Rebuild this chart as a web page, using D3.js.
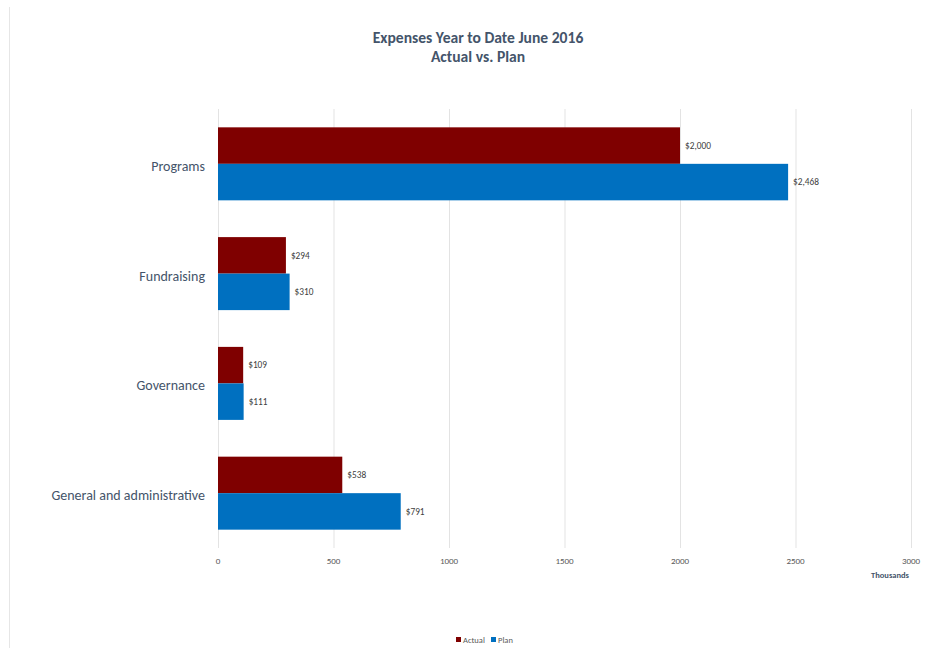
<!DOCTYPE html>
<html>
<head>
<meta charset="utf-8">
<script src="https://cdn.jsdelivr.net/npm/d3@7"></script>
<style>
  body { margin: 0; background: #fff; }
  svg { display: block; font-family: Carlito, "Open Sans", "Liberation Sans", sans-serif; }
</style>
</head>
<body>
<div id="chart"></div>
<script>
const categories = ['Programs', 'Fundraising', 'Governance', 'General and administrative'];
const actual = [2000, 294, 109, 538];
const plan = [2468, 310, 111, 791];
const xTicks = [0, 500, 1000, 1500, 2000, 2500, 3000];
const seriesNames = ['Actual', 'Plan'];
const seriesColors = ['#7F0000', '#0070C0'];

const width = 943, height = 648;
const margin = { top: 109, right: 32, bottom: 100, left: 218 };
const innerW = width - margin.left - margin.right;
const innerH = height - margin.top - margin.bottom;
const textColor = '#44546A';

const svg = d3.select('#chart').append('svg')
    .attr('width', width)
    .attr('height', height);

// faint chart border on the left
svg.append('line')
    .attr('x1', 9.5).attr('x2', 9.5)
    .attr('y1', 7).attr('y2', height)
    .attr('stroke', '#e6e6e6');

svg.append('text')
    .attr('x', 478).attr('y', 43)
    .attr('text-anchor', 'middle')
    .attr('font-size', 15.6).attr('font-weight', 'bold')
    .attr('fill', textColor)
    .text('Expenses Year to Date June 2016');
svg.append('text')
    .attr('x', 478).attr('y', 62)
    .attr('text-anchor', 'middle')
    .attr('font-size', 15.6).attr('font-weight', 'bold')
    .attr('fill', textColor)
    .text('Actual vs. Plan');

const chart = svg.append('g')
    .attr('transform', `translate(${margin.left},${margin.top})`);

const x = d3.scaleLinear().domain([0, 3000]).range([0, 693]);
const y = d3.scaleBand().domain(categories).range([0, innerH]).paddingInner(0.335).paddingOuter(0.167);
const ySub = d3.scaleBand().domain(seriesNames).range([0, y.bandwidth()]);

// gridlines
chart.append('g').selectAll('line')
    .data(xTicks)
    .join('line')
    .attr('x1', d => x(d) + 0.5).attr('x2', d => x(d) + 0.5)
    .attr('y1', 0).attr('y2', innerH)
    .attr('stroke', '#e3e3e3');

// x axis labels
chart.append('g').selectAll('text')
    .data(xTicks)
    .join('text')
    .attr('x', d => x(d))
    .attr('y', innerH + 16)
    .attr('text-anchor', 'middle')
    .attr('font-size', 9)
    .attr('fill', '#595959')
    .text(d => d);

chart.append('text')
    .attr('x', x(3000) - 2)
    .attr('y', innerH + 30)
    .attr('text-anchor', 'end')
    .attr('font-size', 8.5).attr('font-weight', 'bold')
    .attr('fill', textColor)
    .text('Thousands');

// category labels
chart.append('g').selectAll('text')
    .data(categories)
    .join('text')
    .attr('x', -13)
    .attr('y', d => y(d) + y.bandwidth() / 2 + 2)
    .attr('dy', '0.35em')
    .attr('text-anchor', 'end')
    .attr('font-size', 14)
    .attr('fill', textColor)
    .text(d => d);

const rows = categories.map((c, i) => ({ cat: c, values: [actual[i], plan[i]] }));

const groups = chart.append('g').selectAll('g')
    .data(rows)
    .join('g')
    .attr('transform', d => `translate(0,${y(d.cat)})`);

groups.selectAll('rect')
    .data(d => d.values.map((v, j) => ({ key: seriesNames[j], value: v, color: seriesColors[j] })))
    .join('rect')
    .attr('x', 0)
    .attr('y', d => ySub(d.key))
    .attr('width', d => x(d.value))
    .attr('height', ySub.bandwidth())
    .attr('fill', d => d.color);

groups.selectAll('text')
    .data(d => d.values.map((v, j) => ({ key: seriesNames[j], value: v })))
    .join('text')
    .attr('x', d => x(d.value) + 5)
    .attr('y', d => ySub(d.key) + ySub.bandwidth() / 2)
    .attr('dy', '0.35em')
    .attr('font-size', 9.3)
    .attr('fill', '#404040')
    .text(d => '$' + d3.format(',')(d.value));

// legend
const legend = svg.append('g').attr('transform', 'translate(456,643)');
const items = legend.selectAll('g')
    .data(seriesNames)
    .join('g')
    .attr('transform', (d, i) => `translate(${i === 0 ? 0 : 35},0)`);
items.append('rect')
    .attr('x', 0).attr('y', -6)
    .attr('width', 5).attr('height', 5)
    .attr('fill', (d, i) => seriesColors[i]);
items.append('text')
    .attr('x', 7).attr('y', 0)
    .attr('font-size', 8.5)
    .attr('fill', '#595959')
    .text(d => d);
</script>
</body>
</html>
